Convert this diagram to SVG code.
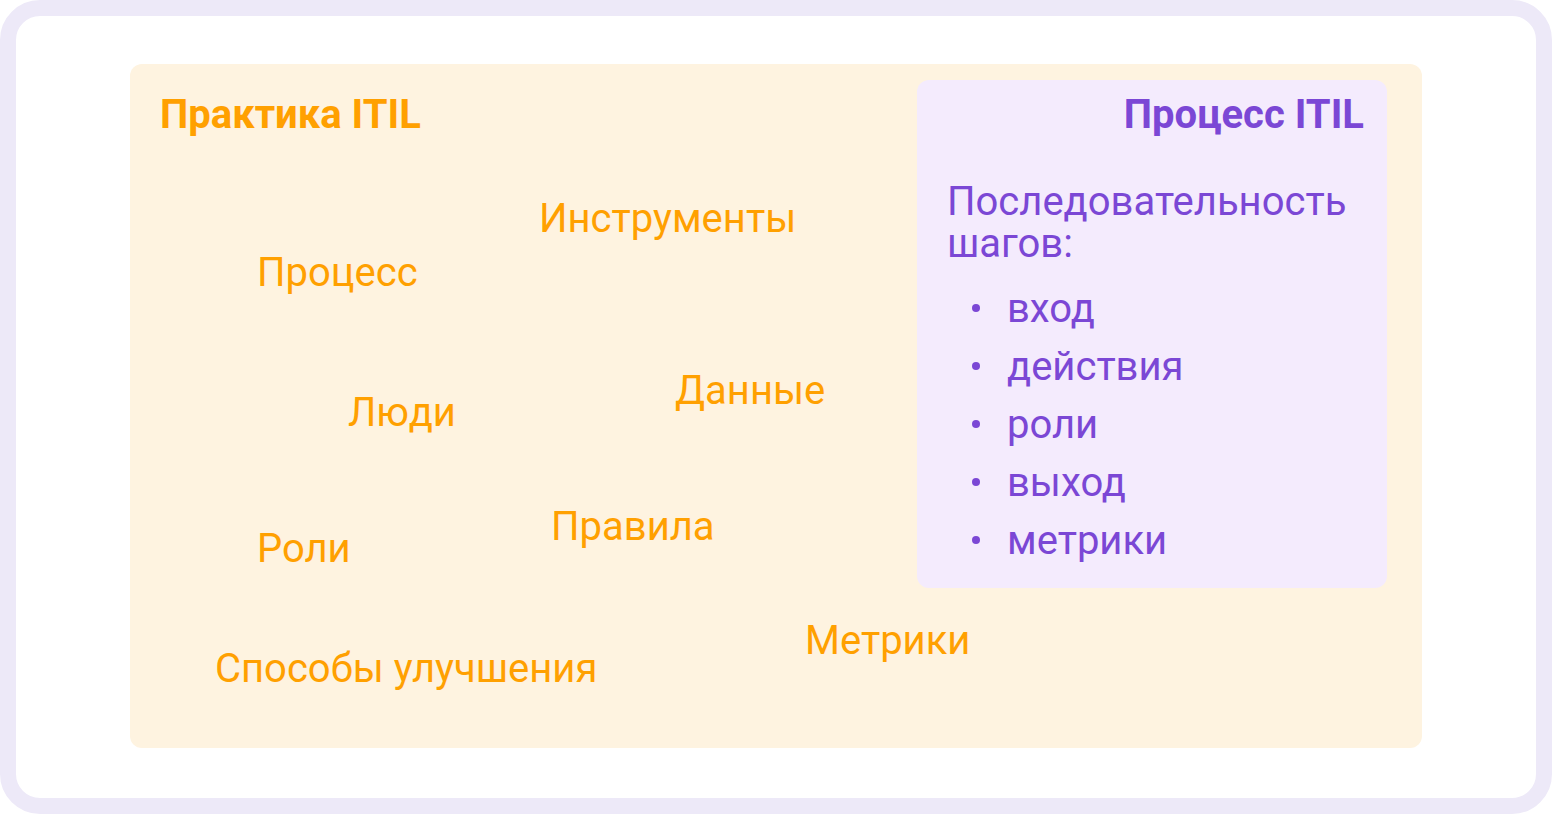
<svg xmlns="http://www.w3.org/2000/svg" width="1552" height="814" viewBox="0 0 1552 814">
<style>
.lbl{font-family:Roboto,"Liberation Sans",sans-serif;font-size:40px;fill:#FFA000}
.ttl{font-family:Roboto,"Liberation Sans",sans-serif;font-size:40px;font-weight:bold}
.pur{font-family:Roboto,"Liberation Sans",sans-serif;font-size:40px;fill:#7B47D5}
.dot{fill:#7B47D5}
</style>
<rect x="8" y="8" width="1536" height="798" rx="32" fill="#FFFFFF" stroke="#EDE9F8" stroke-width="16"/>
<g id="practice">
<rect x="130" y="64" width="1292" height="684" rx="12" fill="#FEF3E0"/>
<text class="ttl" x="160" y="128" fill="#FFA000">Практика ITIL</text>
</g>
<g id="process-box">
<rect x="917" y="80" width="470" height="508" rx="12" fill="#F4EBFD"/>
<text class="ttl" x="1364" y="128" fill="#7B47D5" text-anchor="end">Процесс ITIL</text>
<text class="pur" x="947" y="215">Последовательность</text>
<text class="pur" x="947" y="257">шагов:</text>
<circle class="dot" cx="976" cy="308" r="4"/>
<text class="pur" x="1007" y="322">вход</text>
<circle class="dot" cx="976" cy="366" r="4"/>
<text class="pur" x="1007" y="380">действия</text>
<circle class="dot" cx="976" cy="424" r="4"/>
<text class="pur" x="1007" y="438">роли</text>
<circle class="dot" cx="976" cy="482" r="4"/>
<text class="pur" x="1007" y="496">выход</text>
<circle class="dot" cx="976" cy="540" r="4"/>
<text class="pur" x="1007" y="554">метрики</text>
</g>
<g id="n-tools"><text class="lbl" x="539" y="232">Инструменты</text></g>
<g id="n-process"><text class="lbl" x="257" y="286">Процесс</text></g>
<g id="n-people"><text class="lbl" x="348" y="426">Люди</text></g>
<g id="n-data"><text class="lbl" x="675" y="404">Данные</text></g>
<g id="n-roles"><text class="lbl" x="257" y="562">Роли</text></g>
<g id="n-rules"><text class="lbl" x="551" y="540">Правила</text></g>
<g id="n-improve"><text class="lbl" x="215" y="682">Способы улучшения</text></g>
<g id="n-metrics"><text class="lbl" x="805" y="654">Метрики</text></g>
<g id="connectors"></g>
</svg>
